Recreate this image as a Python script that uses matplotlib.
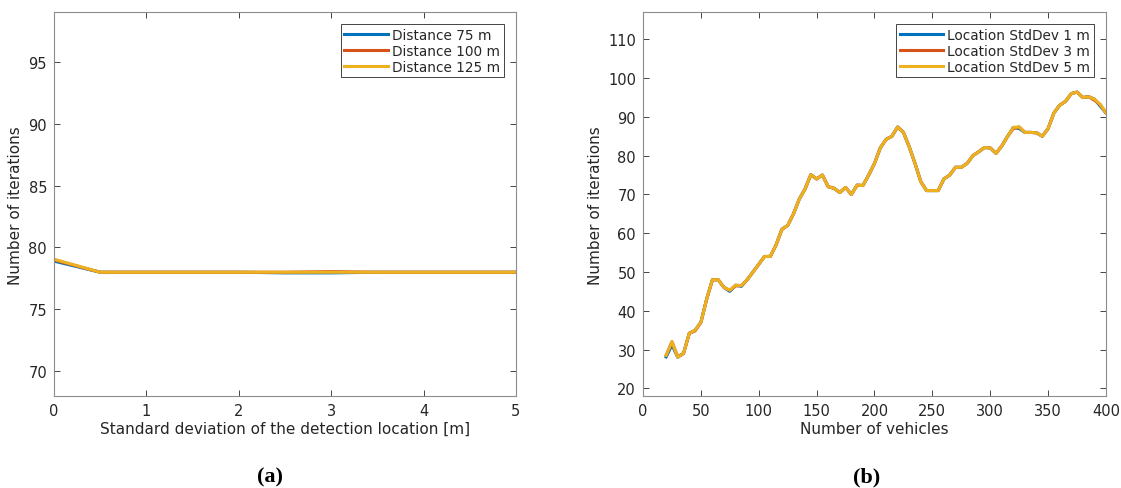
import numpy as np
import matplotlib.pyplot as plt

# (a) iterations vs. std dev of detection location
std_dev = [0, 0.5, 1, 1.5, 2, 2.5, 3, 3.5, 4, 4.5, 5]
iter_d75 = [78.9, 78, 78, 78, 78, 77.95, 77.95, 78, 78, 78, 78]
iter_d100 = [79, 78, 78, 78, 78, 78, 78.05, 78, 78, 78, 78]
iter_d125 = [79.05, 78, 78, 78, 78, 78, 78, 78, 78, 78, 78]

# (b) iterations vs. number of vehicles
vehicles = list(range(20, 401, 5))
iter_s5 = [28.5, 32, 28, 29, 34.2, 35, 37, 43, 48, 48, 46, 45.3, 46.6, 46.5,
           48, 50, 52, 54, 54, 57, 61, 62, 65, 68.8, 71.4, 75.1, 74, 75, 72,
           71.6, 70.5, 71.8, 70, 72.4, 72.3, 75, 78, 82, 84.2, 85, 87.4, 86,
           82.3, 78, 73.3, 71, 71, 71, 74, 75, 77, 77, 78, 80, 81, 82.1, 82,
           80.6, 82.5, 85, 87.3, 87.4, 86, 86, 85.9, 85, 87, 91, 93, 94, 96,
           96.4, 95, 95.2, 94.6, 93.2, 91]
iter_s1 = list(iter_s5)
iter_s1[0] = 28.1
iter_s1[1] = 31.2
iter_s1[11] = 45.0
iter_s1[13] = 46.3
iter_s1[61] = 87.0
iter_s1[75] = 92.8
iter_s3 = list(iter_s5)
iter_s3[2] = 28.2
iter_s3[5] = 34.8
iter_s3[12] = 46.4
iter_s3[60] = 87.0
iter_s3[74] = 94.3

colors = ['#0072BD', '#D95319', '#EDB120']
txt = '#262626'

plt.rcParams['font.family'] = 'DejaVu Sans'
fig = plt.figure(figsize=(11.21, 4.89), dpi=100)
ax1 = fig.add_axes([0.0482, 0.188, 0.412, 0.785])
ax2 = fig.add_axes([0.5736, 0.188, 0.413, 0.785])

ax1.plot(std_dev, iter_d75, color=colors[0], lw=2.2, label='Distance 75 m')
ax1.plot(std_dev, iter_d100, color=colors[1], lw=2.2, label='Distance 100 m')
ax1.plot(std_dev, iter_d125, color=colors[2], lw=2.2, label='Distance 125 m')
ax1.set_xlim(0, 5)
ax1.set_ylim(68, 99)
ax1.set_xticks([0, 1, 2, 3, 4, 5])
ax1.set_yticks([70, 75, 80, 85, 90, 95])
ax1.set_xlabel('Standard deviation of the detection location [m]', fontsize=11, color=txt, labelpad=2)
ax1.set_ylabel('Number of iterations', fontsize=11, color=txt, labelpad=4)

ax2.plot(vehicles, iter_s1, color=colors[0], lw=2.2, label='Location StdDev 1 m')
ax2.plot(vehicles, iter_s3, color=colors[1], lw=2.2, label='Location StdDev 3 m')
ax2.plot(vehicles, iter_s5, color=colors[2], lw=2.2, label='Location StdDev 5 m')
ax2.set_xlim(0, 400)
ax2.set_ylim(18, 117)
ax2.set_xticks(range(0, 401, 50))
ax2.set_yticks(range(20, 111, 10))
ax2.set_xlabel('Number of vehicles', fontsize=11, color=txt, labelpad=2)
ax2.set_ylabel('Number of iterations', fontsize=11, color=txt, labelpad=4)

for ax in (ax1, ax2):
    ax.tick_params(direction='in', top=True, right=True, labelsize=10.5,
                   colors=txt, length=4, width=0.6, pad=5)
    for sp in ax.spines.values():
        sp.set_color('#8c8c8c')
        sp.set_linewidth(0.8)
    leg = ax.legend(loc='upper right', fontsize=9.8, fancybox=False,
                    framealpha=1, edgecolor='#262626', handlelength=3.2,
                    borderpad=0.25, labelspacing=0.15, handletextpad=0.3,
                    borderaxespad=0.9)
    leg.get_frame().set_linewidth(0.6)
    for t in leg.get_texts():
        t.set_color(txt)

fig.text(0.241, 0.024, '(a)', ha='center', va='center', fontsize=16,
         fontweight='bold', family='Liberation Serif')
fig.text(0.773, 0.024, '(b)', ha='center', va='center', fontsize=16,
         fontweight='bold', family='Liberation Serif')

fig.savefig('out.png', dpi=100)
